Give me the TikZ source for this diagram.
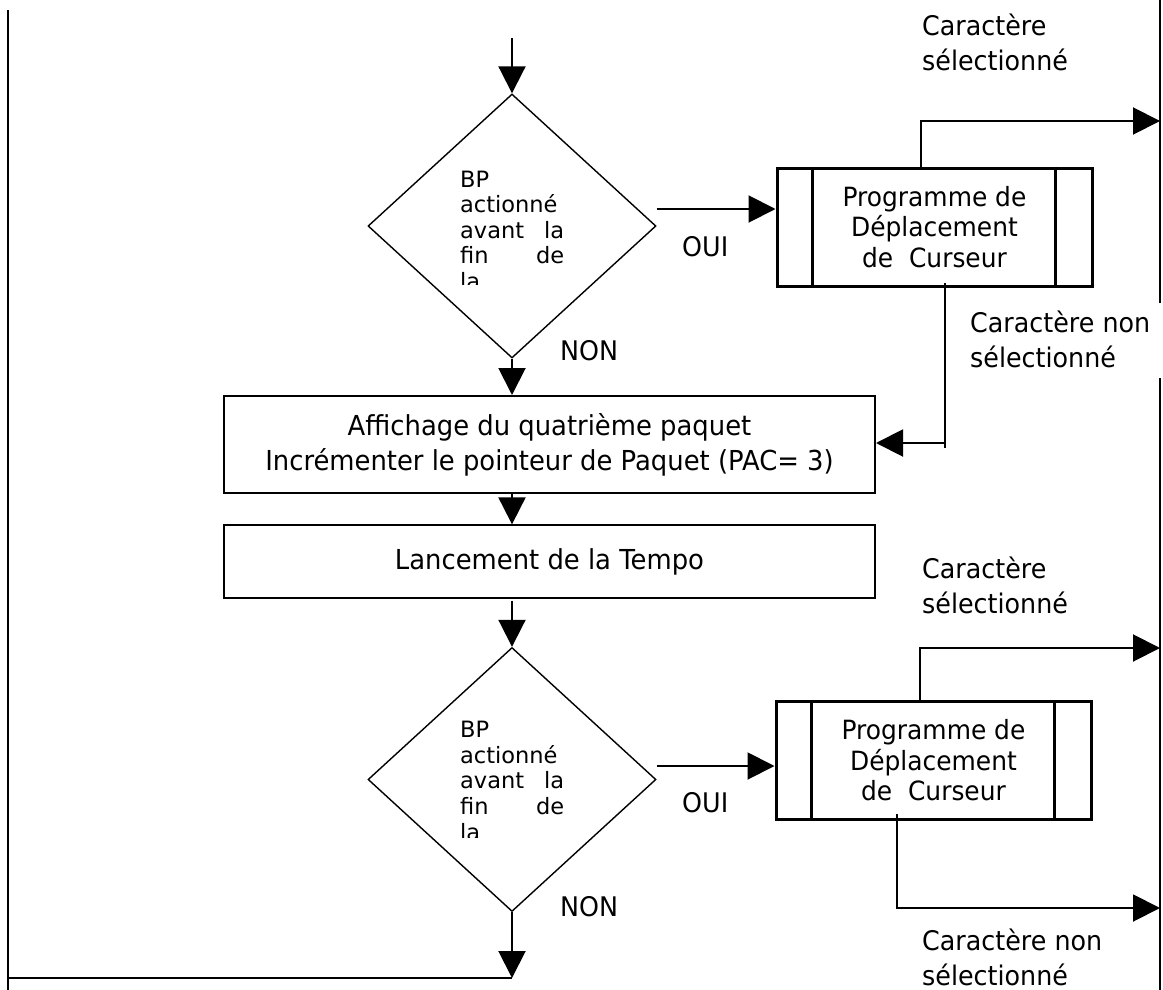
\documentclass[tikz,border=0pt]{standalone}
\usepackage{fontspec}
\setmainfont{DejaVu Sans}
\newfontfamily\condfont[FakeStretch=0.94]{DejaVu Sans}
\usetikzlibrary{shapes.geometric,arrows.meta}
\begin{document}
\begin{tikzpicture}[x=1pt,y=-1pt,
    fl/.style={line width=2pt,-{Triangle[length=27pt,width=27pt]}},
    ln/.style={line width=2pt},
    rail/.style={line width=2.8pt},
    test/.style={diamond,draw,line width=1.4pt,minimum width=288pt,minimum height=264pt,inner sep=0pt},
    act/.style={rectangle,draw,line width=2pt,minimum width=651pt,inner sep=0pt,font=\condfont\fontsize{27.5}{35}\selectfont,align=center},
    sub/.style={rectangle,draw,line width=3pt,minimum width=315pt,minimum height=118pt,inner sep=0pt,font=\condfont\fontsize{26.5}{30.5}\selectfont,align=center},
    lbl/.style={inner sep=0pt,font=\condfont\fontsize{27}{35}\selectfont,align=left},
    dtxt/.style={inner sep=0pt,anchor=north west,text width=104pt,font=\fontsize{22.5}{25.6}\selectfont,align=left}]
    \useasboundingbox (0,0) rectangle (1163,990);
    % rails left and right
    \coordinate (l1) at (8,10); \coordinate (l2) at (8,990);
    \coordinate (r1) at (1160,0); \coordinate (r2) at (1160,303);
    \coordinate (r3) at (1160,378); \coordinate (r4) at (1160,990);
    \draw[rail] (l1) -- (l2);
    \draw[rail] (r1) -- (r2) (r3) -- (r4);
    % first test
    \coordinate (in) at (512,38);
    \node[test] (d1) at (512,226) {};
    \begin{scope}
        \clip (440,150) rectangle (600,284);
        \node[dtxt] (q1) at (460,170.5) {BP\\actionné\\avant\hfill la\\fin\hfill de\\la};
    \end{scope}
    \node[sub] (p1) at (934.5,227) {Programme de\\Déplacement\\ de~~Curseur};
    \draw[line width=3pt] ([xshift=37pt]p1.north west) -- ([xshift=37pt]p1.south west);
    \draw[line width=3pt] ([xshift=-38pt]p1.north east) -- ([xshift=-38pt]p1.south east);
    \draw[fl] (in) -- (d1.north);
    \draw[fl] ([yshift=17pt]d1.east) -- ([yshift=17pt]d1.east -| p1.west);
    \node[lbl,anchor=base west] (oui1) at (682,256) {OUI};
    \coordinate (s1) at (1160,121);
    \draw[fl] ([xshift=-13.5pt]p1.north) |- (s1);
    \node[lbl,anchor=north west] (c1) at (922,14) {Caractère\\sélectionné};
    \node[lbl,anchor=north west] (c2) at (970,311) {Caractère non\\sélectionné};
    \node[lbl,anchor=base west] (non1) at (560,360) {NON};
    % process boxes
    \node[act,minimum height=97pt] (a1) at (549.5,444.5) {Affichage du quatrième paquet\\Incrémenter le pointeur de Paquet (PAC= 3)};
    \node[act,minimum height=73pt,line width=1.3pt] (a2) at (549.5,561.5) {Lancement de la Tempo};
    \coordinate (n1) at (945,443);
    \draw[ln] ([xshift=10.5pt,yshift=5pt]p1.south) -- ([yshift=-5pt]n1);
    \draw[fl] (n1) -- (n1 -| a1.east);
    \draw[fl] (d1.south) -- (d1.south |- a1.north);
    \draw[fl] (d1.south |- a1.south) -- (d1.south |- a2.north);
    % second test
    \node[test] (d2) at (512,779.5) {};
    \begin{scope}
        \clip (440,703.5) rectangle (600,837.5);
        \node[dtxt] (q2) at (460,721) {BP\\actionné\\avant\hfill la\\fin\hfill de\\la};
    \end{scope}
    \node[sub] (p2) at (933.5,760.5) {Programme de\\Déplacement\\ de~~Curseur};
    \draw[line width=3pt] ([xshift=37pt]p2.north west) -- ([xshift=37pt]p2.south west);
    \draw[line width=3pt] ([xshift=-38pt]p2.north east) -- ([xshift=-38pt]p2.south east);
    \draw[fl] ([yshift=-2pt]d2.north |- a2.south) -- (d2.north);
    \draw[fl] ([yshift=13.5pt]d2.east) -- ([yshift=13.5pt]d2.east -| p2.west);
    \node[lbl,anchor=base west] (oui2) at (682,812) {OUI};
    \coordinate (s2) at (1160,648);
    \draw[fl] ([xshift=-13.5pt]p2.north) |- (s2);
    \coordinate (n2) at (1160,908);
    \draw[fl] ([xshift=-36.5pt,yshift=7pt]p2.south) |- (n2);
    \node[lbl,anchor=north west] (c3) at (922,557) {Caractère\\sélectionné};
    \node[lbl,anchor=north west] (c4) at (922,929) {Caractère non\\sélectionné};
    \node[lbl,anchor=base west] (non2) at (560,916) {NON};
    % back to the left rail
    \coordinate (out) at (512,978);
    \draw[fl] (d2.south) -- (out);
    \draw[ln] (l2 |- out) -- (out);
\end{tikzpicture}
\end{document}
